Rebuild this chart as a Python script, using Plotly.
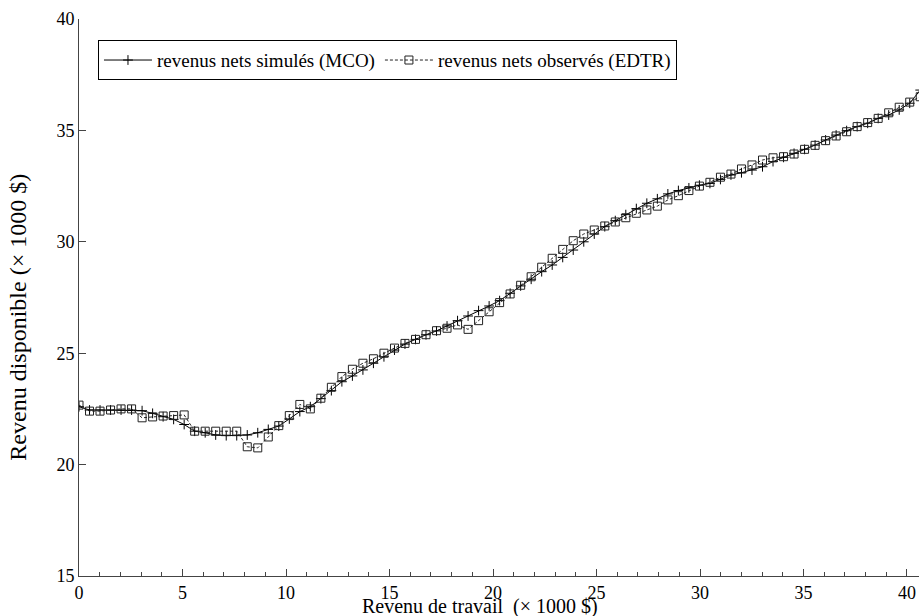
import plotly.graph_objects as go

# x grid step (k$) between successive observations
X_STEP = 0.508

# Observed disposable income (EDTR), squares
observed = [22.67, 22.40, 22.40, 22.45, 22.50, 22.50, 22.10, 22.14, 22.18, 22.20,
            22.23, 21.50, 21.50, 21.50, 21.50, 21.50, 20.80, 20.75, 21.24, 21.75,
            22.20, 22.70, 22.50, 22.98, 23.47, 23.95, 24.28, 24.55, 24.75, 25.00,
            25.23, 25.44, 25.62, 25.83, 26.01, 26.12, 26.27, 26.07, 26.46, 26.86,
            27.27, 27.66, 28.05, 28.43, 28.86, 29.26, 29.66, 30.05, 30.35, 30.53,
            30.71, 30.89, 31.08, 31.28, 31.43, 31.60, 31.88, 32.07, 32.30, 32.50,
            32.67, 32.90, 33.04, 33.27, 33.45, 33.67, 33.77, 33.82, 33.94, 34.15,
            34.33, 34.54, 34.75, 34.94, 35.17, 35.35, 35.54, 35.79, 36.04, 36.27,
            36.51]

# Simulated net income (MCO), plus markers
simulated = [22.60, 22.45, 22.45, 22.45, 22.45, 22.45, 22.42, 22.30, 22.15, 22.03,
             21.80, 21.50, 21.43, 21.33, 21.30, 21.30, 21.33, 21.43, 21.58, 21.73,
             22.05, 22.38, 22.60, 22.96, 23.32, 23.72, 23.98, 24.25, 24.55, 24.84,
             25.14, 25.41, 25.62, 25.83, 26.00, 26.22, 26.46, 26.67, 26.91, 27.12,
             27.36, 27.69, 28.02, 28.32, 28.66, 28.96, 29.30, 29.63, 30.00, 30.35,
             30.68, 30.95, 31.22, 31.49, 31.73, 31.93, 32.15, 32.30, 32.42, 32.54,
             32.62, 32.80, 33.00, 33.10, 33.22, 33.37, 33.60, 33.79, 33.97, 34.15,
             34.34, 34.57, 34.79, 34.99, 35.17, 35.32, 35.54, 35.69, 35.92, 36.22,
             36.81]

x_vals = [round(i * X_STEP, 3) for i in range(len(observed))]

x_ticks = [0, 5, 10, 15, 20, 25, 30, 35, 40]
y_ticks = [15, 20, 25, 30, 35, 40]

FONT = "Liberation Serif, Times New Roman, DejaVu Serif, serif"

fig = go.Figure()
fig.add_trace(go.Scatter(
    x=x_vals, y=simulated, mode="lines+markers",
    name="revenus nets simulés (MCO)",
    line=dict(color="black", width=1),
    marker=dict(symbol="cross-thin", size=7, line=dict(color="black", width=1), color="black"),
))
fig.add_trace(go.Scatter(
    x=x_vals, y=observed, mode="lines+markers",
    name="revenus nets observés (EDTR)",
    line=dict(color="#222", width=1, dash="3px,2px"),
    marker=dict(symbol="square-open", size=8, line=dict(color="#222", width=1), color="#222"),
))

fig.update_layout(
    width=919, height=616,
    margin=dict(l=79, r=0, t=19, b=40),
    plot_bgcolor="white", paper_bgcolor="white",
    font=dict(family=FONT, size=18, color="black"),
    showlegend=True,
    legend=dict(
        orientation="h", x=0.0226, y=0.962, xanchor="left", yanchor="top",
        bgcolor="white", bordercolor="black", borderwidth=1,
        font=dict(family=FONT, size=19, color="black"),
        itemwidth=48, tracegroupgap=0,
    ),
)
fig.update_xaxes(
    range=[0, 40.58], tickvals=x_ticks, ticktext=[str(v) for v in x_ticks],
    showgrid=False, zeroline=False, showline=True, linecolor="#444", linewidth=1,
    ticks="inside", ticklen=7, tickcolor="#444",
    minor=dict(dtick=1, ticks="inside", ticklen=4, tickcolor="#444"),
    tickfont=dict(family=FONT, size=18),
)
fig.update_yaxes(
    range=[15, 40], tickvals=y_ticks, ticktext=[str(v) for v in y_ticks],
    showgrid=False, zeroline=False, showline=True, linecolor="#444", linewidth=1,
    ticks="inside", ticklen=7, tickcolor="#444",
    tickfont=dict(family=FONT, size=18),
)
fig.add_annotation(
    text="Revenu de travail  (× 1000 $)", xref="paper", yref="paper",
    x=0.477, y=-0.054, xanchor="center", yanchor="middle", showarrow=False,
    font=dict(family=FONT, size=20, color="black"),
)
fig.add_annotation(
    text="Revenu disponible (× 1000 $)", xref="paper", yref="paper",
    x=-0.073, y=0.465, xanchor="center", yanchor="middle", showarrow=False,
    textangle=-90, font=dict(family=FONT, size=24, color="black"),
)

fig.write_html("out.html")
